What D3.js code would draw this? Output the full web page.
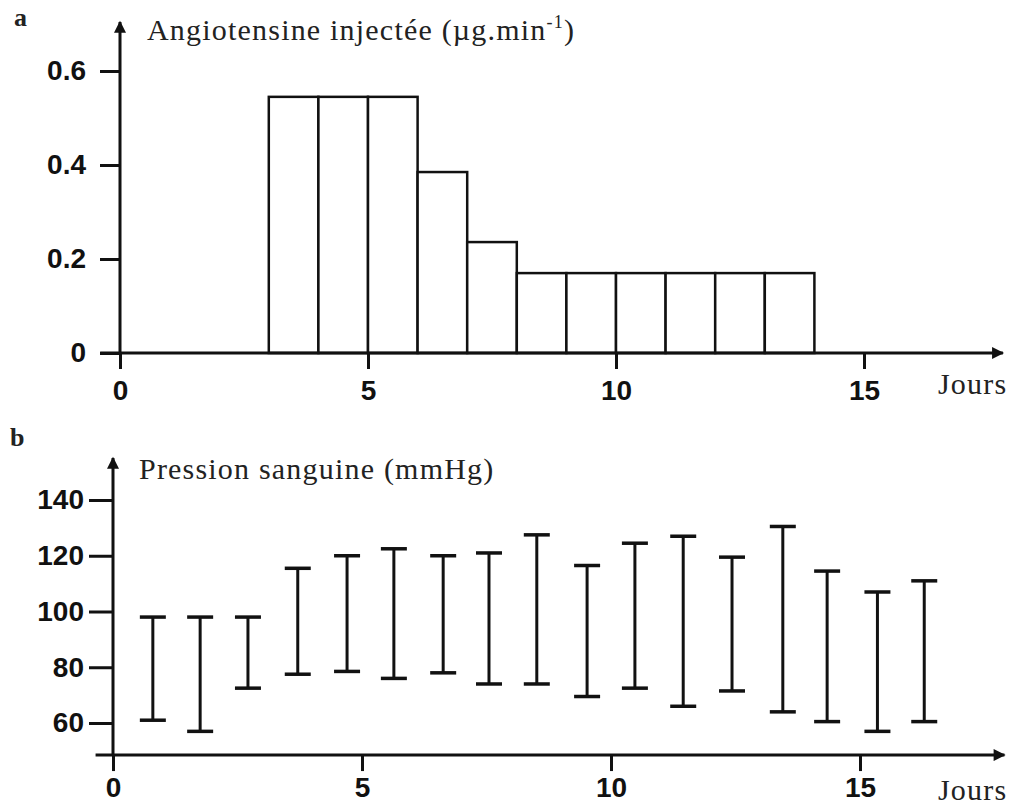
<!DOCTYPE html>
<html>
<head>
<meta charset="utf-8">
<script src="https://cdn.jsdelivr.net/npm/d3@7"></script>
<style>
    body { margin: 0; background: #fff; }
    .tick text { font-family: "Liberation Sans", Arial, sans-serif; font-weight: bold; font-size: 28px; fill: #111; }
    .tick line { stroke: #111; stroke-width: 3; }
    .serif { font-family: "Liberation Serif", "Times New Roman", serif; fill: #222; letter-spacing: 1.2px; }
</style>
</head>
<body>
<svg id="chart" width="1016" height="807"></svg>
<script>
// panel a : injected angiotensin, one bar per day (start day of each bar)
const doseDays = [3, 4, 5, 6, 7, 8, 9, 10, 11, 12, 13];
const doseValues = [0.545, 0.545, 0.545, 0.385, 0.236, 0.17, 0.17, 0.17, 0.17, 0.17, 0.17];
const doseTicks = [0, 0.2, 0.4, 0.6];
const dayTicks = [0, 5, 10, 15];

// panel b : blood pressure range per day
const pressureDays = [0.8, 1.75, 2.71, 3.71, 4.7, 5.64, 6.63, 7.55, 8.51, 9.52, 10.48, 11.45, 12.43, 13.45, 14.34, 15.35, 16.29];
const pressureHigh = [98, 98, 98, 115.5, 120, 122.5, 120, 121, 127.5, 116.5, 124.5, 127, 119.5, 130.5, 114.5, 107, 111];
const pressureLow = [61, 57, 72.5, 77.5, 78.5, 76, 78, 74, 74, 69.5, 72.5, 66, 71.5, 64, 60.5, 57, 60.5];
const pressureTicks = [60, 80, 100, 120, 140];

const svg = d3.select('#chart');

svg.append('defs').append('marker')
    .attr('id', 'arrow')
    .attr('viewBox', '0 0 10 10')
    .attr('refX', 9).attr('refY', 5)
    .attr('markerWidth', 5).attr('markerHeight', 4)
    .attr('markerUnits', 'strokeWidth')
    .attr('orient', 'auto')
    .append('path')
    .attr('d', 'M0,0 L10,5 L0,10 Z')
    .attr('fill', '#111');

function drawAxes(g, x, y, cfg) {
    // y axis ticks
    g.append('g')
        .attr('transform', `translate(${x(0)},0)`)
        .call(d3.axisLeft(y).tickValues(cfg.yTicks).tickSize(cfg.yTickSize).tickPadding(cfg.yPad).tickFormat(cfg.yFormat))
        .call(a => a.select('.domain').remove());

    // x axis ticks
    g.append('g')
        .attr('transform', `translate(0,${cfg.xAxisY})`)
        .call(d3.axisBottom(x).tickValues(dayTicks).tickSize(cfg.xTickSize).tickPadding(cfg.xPad))
        .call(a => a.select('.domain').remove());

    // axis lines with arrows
    g.append('line')
        .attr('x1', x(0)).attr('x2', x(0))
        .attr('y1', cfg.xAxisY).attr('y2', cfg.yTop)
        .attr('stroke', '#111').attr('stroke-width', 3)
        .attr('marker-end', 'url(#arrow)');

    g.append('line')
        .attr('x1', x(cfg.xStart)).attr('x2', x(cfg.xEnd))
        .attr('y1', cfg.xAxisY).attr('y2', cfg.xAxisY)
        .attr('stroke', '#111').attr('stroke-width', 3)
        .attr('marker-end', 'url(#arrow)');

    g.append('text')
        .attr('class', 'serif')
        .attr('x', cfg.jx).attr('y', cfg.jy)
        .attr('font-size', 30)
        .text('Jours');
}

// ---------- panel a ----------
const gA = svg.append('g');
const xA = d3.scaleLinear().domain([0, 15]).range([120, 864]);
const yA = d3.scaleLinear().domain([0, 0.6]).range([353, 71]);

gA.selectAll('.dose')
    .data(doseDays.map((d, i) => ({day: d, value: doseValues[i]})))
    .join('rect')
    .attr('class', 'dose')
    .attr('x', d => xA(d.day))
    .attr('width', d => xA(d.day + 1) - xA(d.day))
    .attr('y', d => yA(d.value))
    .attr('height', d => yA(0) - yA(d.value))
    .attr('fill', '#fff')
    .attr('stroke', '#111')
    .attr('stroke-width', 2.5);

drawAxes(gA, xA, yA, {
    yTicks: doseTicks, yTickSize: 20, yPad: 14, yFormat: d => d === 0 ? '0' : d3.format('.1f')(d),
    xAxisY: yA(0), xTickSize: 16, xPad: 11,
    yTop: 22, xStart: -0.4, xEnd: 17.8,
    jx: 938, jy: 394
});

gA.append('text')
    .attr('class', 'serif')
    .attr('x', 147).attr('y', 40)
    .attr('font-size', 30)
    .text('Angiotensine injectée (µg.min')
    .append('tspan').attr('dy', -12).attr('font-size', 18).text('-1')
    .select(function() { return this.parentNode; })
    .append('tspan').attr('dy', 12).text(')');

svg.append('text')
    .attr('class', 'serif')
    .attr('x', 14).attr('y', 26)
    .attr('font-size', 26).attr('font-weight', 'bold')
    .text('a');

// ---------- panel b ----------
const gB = svg.append('g');
const xB = d3.scaleLinear().domain([0, 15]).range([113, 860]);
const yB = d3.scaleLinear().domain([60, 140]).range([723, 500]);

const bars = pressureDays.map((d, i) => ({day: d, high: pressureHigh[i], low: pressureLow[i]}));
const capW = 13;

gB.selectAll('.range')
    .data(bars)
    .join('line')
    .attr('class', 'range')
    .attr('x1', d => xB(d.day)).attr('x2', d => xB(d.day))
    .attr('y1', d => yB(d.high)).attr('y2', d => yB(d.low))
    .attr('stroke', '#111').attr('stroke-width', 3);

gB.selectAll('.capHigh')
    .data(bars)
    .join('line')
    .attr('class', 'capHigh')
    .attr('x1', d => xB(d.day) - capW).attr('x2', d => xB(d.day) + capW)
    .attr('y1', d => yB(d.high)).attr('y2', d => yB(d.high))
    .attr('stroke', '#111').attr('stroke-width', 3.5);

gB.selectAll('.capLow')
    .data(bars)
    .join('line')
    .attr('class', 'capLow')
    .attr('x1', d => xB(d.day) - capW).attr('x2', d => xB(d.day) + capW)
    .attr('y1', d => yB(d.low)).attr('y2', d => yB(d.low))
    .attr('stroke', '#111').attr('stroke-width', 3.5);

drawAxes(gB, xB, yB, {
    yTicks: pressureTicks, yTickSize: 24, yPad: 5, yFormat: d3.format('d'),
    xAxisY: yB(48.5), xTickSize: 16, xPad: 6,
    yTop: 458, xStart: -0.35, xEnd: 17.9,
    jx: 938, jy: 800
});

gB.append('text')
    .attr('class', 'serif')
    .attr('x', 139).attr('y', 479)
    .attr('font-size', 30)
    .text('Pression sanguine (mmHg)');

svg.append('text')
    .attr('class', 'serif')
    .attr('x', 10).attr('y', 446)
    .attr('font-size', 26).attr('font-weight', 'bold')
    .text('b');
</script>
</body>
</html>
